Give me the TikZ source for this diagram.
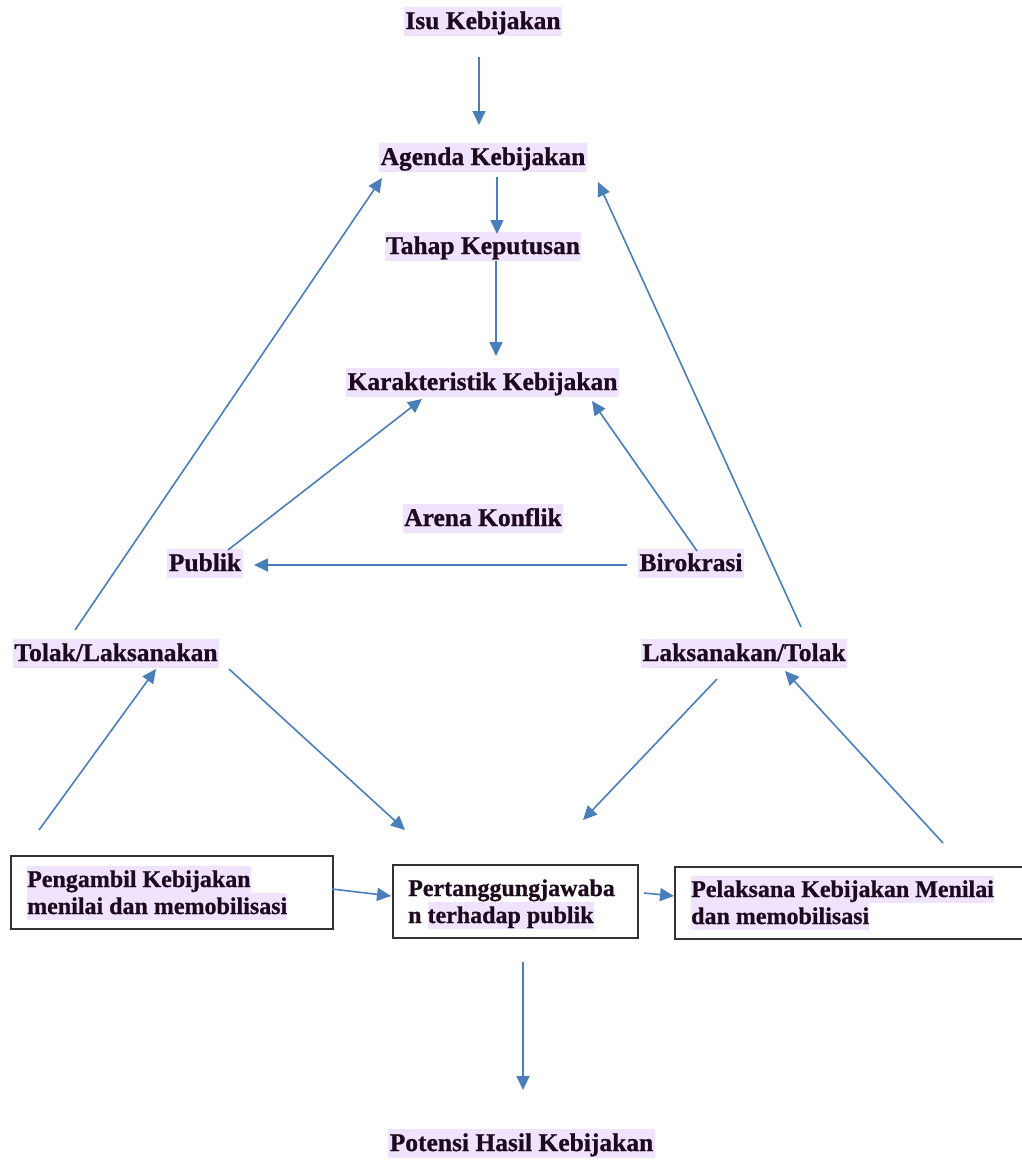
\documentclass[tikz,border=0pt]{standalone}
\usepackage{fontspec}
\setmainfont{Liberation Serif}[BoldFeatures={FakeBold=0.8}]
\usetikzlibrary{arrows.meta}
\definecolor{hl}{HTML}{EFE3FD}
\definecolor{tc}{HTML}{1E0A1E}
\definecolor{lc}{HTML}{4A7EBB}
\definecolor{bc}{HTML}{333333}
\newcommand\hlbox[1]{{\setlength{\fboxsep}{0pt}\colorbox{hl}{\rule[-6pt]{0pt}{27pt}#1}}}
\tikzset{
  lbl/.style={fill=hl, text=tc, font=\fontsize{25.5}{28}\selectfont\bfseries,
    inner xsep=1.5pt, inner ysep=0pt, text height=22pt, text depth=7pt},
  boxtxt/.style={anchor=base west, inner sep=0pt, text=tc, font=\fontsize{24}{27}\selectfont\bfseries},
  boxst/.style={draw=bc, line width=2pt, anchor=north west, inner sep=0pt},
  arr/.style={draw=lc, line width=1.6pt, -{Triangle[length=14pt,width=13pt]}}
}
\begin{document}
\begin{tikzpicture}[x=1pt,y=-1pt]
\useasboundingbox (0,0) rectangle (1022,1160);
\clip (0,0) rectangle (1022,1160);
\fill[white] (0,0) rectangle (1022,1160);

% labels
\node[lbl] (isu) at (483,21.5) {Isu Kebijakan};
\node[lbl] (agenda) at (483,157.5) {Agenda Kebijakan};
\node[lbl] (tahap) at (483,246.5) {Tahap Keputusan};
\node[lbl] (karak) at (482.5,382.5) {Karakteristik Kebijakan};
\node[lbl] (arena) at (483,518.5) {Arena Konflik};
\node[lbl] (publik) at (205,563.5) {Publik};
\node[lbl] (biro) at (691,563.5) {Birokrasi};
\node[lbl] (tolakL) at (116,653.5) {Tolak/Laksanakan};
\node[lbl] (laksR) at (744,653.5) {Laksanakan/Tolak};
\node[lbl] (potensi) at (521.5,1143.5) {Potensi Hasil Kebijakan};

% boxes
\node[boxst, minimum width=322pt, minimum height=73pt] (bleft) at (10,855) {};
\node[boxst, minimum width=245pt, minimum height=73pt] (bmid) at (392,864) {};
\node[boxst, minimum width=370pt, minimum height=72pt] (bright) at (674,866) {};

\node[boxtxt] (bl1) at (27,887) {\hlbox{Pengambil Kebijakan}};
\node[boxtxt] (bl2) at (27,914) {\hlbox{menilai dan memobilisasi}};
\node[boxtxt] (bm1) at (408,896) {Pertanggungjawaba};
\node[boxtxt] (bm2) at (408,923) {n \hlbox{terhadap publik}};
\node[boxtxt] (br1) at (691,897) {\hlbox{Pelaksana Kebijakan Menilai}};
\node[boxtxt] (br2) at (691,924) {\hlbox{dan memobilisasi}};

% connector end points
\coordinate (a1s) at (479,57);   \coordinate (a1e) at (479,125);
\coordinate (a2s) at (497,177);  \coordinate (a2e) at (497,234);
\coordinate (a3s) at (496,261);  \coordinate (a3e) at (496,356);
\coordinate (a4s) at (228,550);  \coordinate (a4e) at (422,399);
\coordinate (a5s) at (697,551);  \coordinate (a5e) at (592,401);
\coordinate (a6s) at (627,565);  \coordinate (a6e) at (254,565);
\coordinate (a7s) at (75,630);   \coordinate (a7e) at (382,178);
\coordinate (a8s) at (801,627);  \coordinate (a8e) at (598,182);
\coordinate (a9s) at (39,830);   \coordinate (a9e) at (156,669);
\coordinate (a10s) at (229,669); \coordinate (a10e) at (405,830);
\coordinate (a11s) at (717,679); \coordinate (a11e) at (583,820);
\coordinate (a12s) at (943,843); \coordinate (a12e) at (785,671);
\coordinate (a13s) at (332,889); \coordinate (a13e) at (391,896);
\coordinate (a14s) at (644,893); \coordinate (a14e) at (674,896);
\coordinate (a15s) at (523,962); \coordinate (a15e) at (523,1090);

\foreach \i in {1,...,15} { \draw[arr] (a\i s) -- (a\i e); }
\end{tikzpicture}
\end{document}
